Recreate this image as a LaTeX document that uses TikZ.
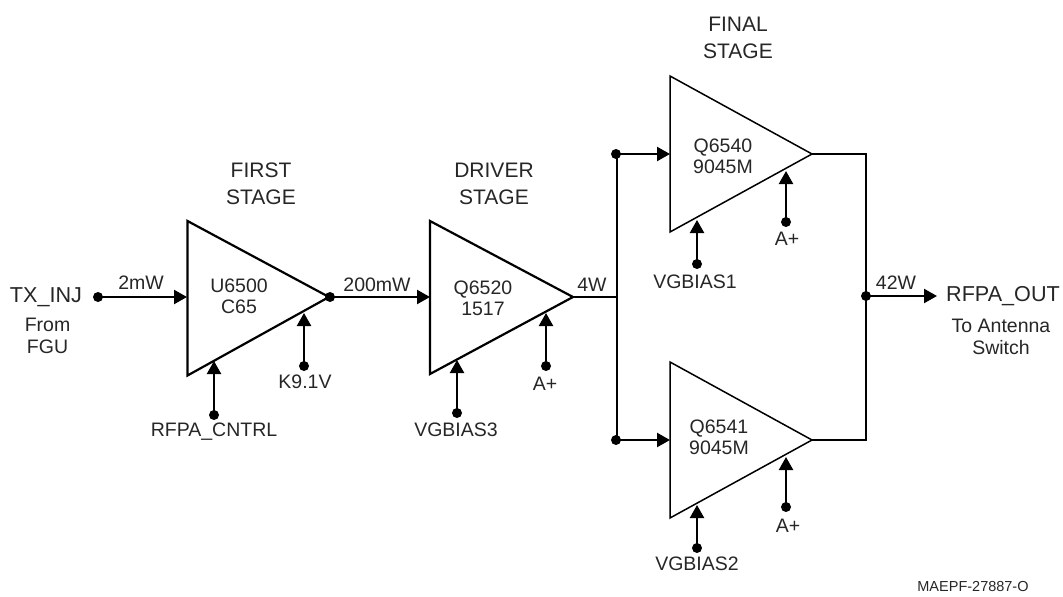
\documentclass[tikz,border=0pt]{standalone}
\usepackage{fontspec}
\setmainfont{Liberation Sans}
\usetikzlibrary{arrows.meta}
\definecolor{ink}{HTML}{262626}
\begin{document}
\begin{tikzpicture}[x=1pt,y=-1pt,
  line cap=butt,
  amp/.style={draw=black,line width=2.2pt,line join=miter,fill=none},
  ampthin/.style={draw=black,line width=1.5pt,line join=miter,fill=none},
  wire/.style={draw=black,line width=2.3pt},
  arr/.style={wire,-{Triangle[length=13pt,width=14pt]}},
  dotn/.style={circle,fill=black,inner sep=0pt,minimum size=10pt},
  big/.style={text=ink,font=\fontsize{21.6}{25}\selectfont,inner sep=0pt},
  stage/.style={text=ink,font=\fontsize{21}{26.5}\selectfont,inner sep=0pt,align=center},
  txt/.style={text=ink,font=\fontsize{19.5}{21.3}\selectfont,inner sep=0pt,align=center},
  note/.style={text=ink,font=\fontsize{14.5}{17}\selectfont,inner sep=0pt}]
\useasboundingbox (0,0) rectangle (1063,597);
% amplifiers
\draw[amp] (187.5,221) -- (187.5,375.5) -- (329,297) -- cycle;
\draw[amp] (430,221) -- (430,374) -- (573,297) -- cycle;
\draw[ampthin] (670,76) -- (670,232) -- (812,154) -- cycle;
\draw[ampthin] (670,362) -- (670,518) -- (812,440) -- cycle;
% anchors on amps
\coordinate (a1in) at (187,297);
\coordinate (a2in) at (430,297);
\coordinate (a3in) at (670,154);
\coordinate (a4in) at (670,440);
\coordinate (a3out) at (812,154);
\coordinate (a4out) at (812,440);
\coordinate (a2out) at (573,297);
\coordinate (a1b) at (214,361);
\coordinate (a1k) at (304,313);
\coordinate (a2b) at (457,360);
\coordinate (a2a) at (546,313);
\coordinate (a3b) at (697,220);
\coordinate (a3a) at (786,171);
\coordinate (a4b) at (697,505);
\coordinate (a4a) at (786,457);
\coordinate (cT) at (866,154);
\coordinate (cB) at (866,440);
\coordinate (sj) at (617,297);
\coordinate (sT) at (617,154);
\coordinate (sB) at (617,440);
\coordinate (outtip) at (937,296);
% dots
\node[dotn] (txd) at (98,297) {};
\node[dotn] (o1) at (330,297) {};
\node[dotn] (d1b) at (214,415) {};
\node[dotn] (d1k) at (304,366) {};
\node[dotn] (d2b) at (457,413) {};
\node[dotn] (d2a) at (546,366) {};
\node[dotn] (d3t) at (616,154) {};
\node[dotn] (d4t) at (616,440) {};
\node[dotn] (d3b) at (697,264) {};
\node[dotn] (d3a) at (786,222) {};
\node[dotn] (d4b) at (697,548) {};
\node[dotn] (d4a) at (786,507) {};
\node[dotn] (dout) at (866,296) {};
% connectors
\draw[arr] (txd.center) -- (a1in);
\draw[arr] (o1.center) -- (a2in);
\draw[wire] (a2out) -- (sj);
\draw[wire] (sT) -- (sB);
\draw[arr] (d3t.center) -- (a3in);
\draw[arr] (d4t.center) -- (a4in);
\draw[wire,line join=miter] (a3out) -- (cT) -- (cB) -- (a4out);
\draw[arr] (dout.center) -- (outtip);
\draw[arr] (d1b.center) -- (a1b);
\draw[arr] (d1k.center) -- (a1k);
\draw[arr] (d2b.center) -- (a2b);
\draw[arr] (d2a.center) -- (a2a);
\draw[arr] (d3b.center) -- (a3b);
\draw[arr] (d3a.center) -- (a3a);
\draw[arr] (d4b.center) -- (a4b);
\draw[arr] (d4a.center) -- (a4a);
% labels
\node[big] (l1) at (46,297) {TX\_INJ};
\node[txt] (l2) at (47.5,336) {From\\FGU};
\node[txt] (l3) at (141,283) {2mW};
\node[txt] (l4) at (239,296.5) {U6500\\C65};
\node[stage] (l5) at (261,184) {FIRST\\STAGE};
\node[txt] (l6) at (377,285) {200mW};
\node[txt] (l7) at (214,432) {RFPA\_CNTRL};
\node[txt] (l8) at (305,382) {K9.1V};
\node[stage] (l9) at (494,184) {DRIVER\\STAGE};
\node[txt] (l10) at (483,298) {Q6520\\1517};
\node[txt] (l11) at (456,430) {VGBIAS3};
\node[txt] (l12) at (545,384) {A+};
\node[txt] (l13) at (592,285) {4W};
\node[stage] (l14) at (738,38) {FINAL\\STAGE};
\node[txt] (l15) at (723,156) {Q6540\\9045M};
\node[txt] (l16) at (695,282) {VGBIAS1};
\node[txt] (l17) at (787,239) {A+};
\node[txt] (l18) at (719,437) {Q6541\\9045M};
\node[txt] (l19) at (697,564) {VGBIAS2};
\node[txt] (l20) at (788,526) {A+};
\node[txt] (l21) at (896,283) {42W};
\node[big] (l22) at (1003,296) {RFPA\_OUT};
\node[txt] (l23) at (1001,337) {To Antenna\\Switch};
\node[note] (l24) at (973,587) {MAEPF-27887-O};
\end{tikzpicture}
\end{document}
